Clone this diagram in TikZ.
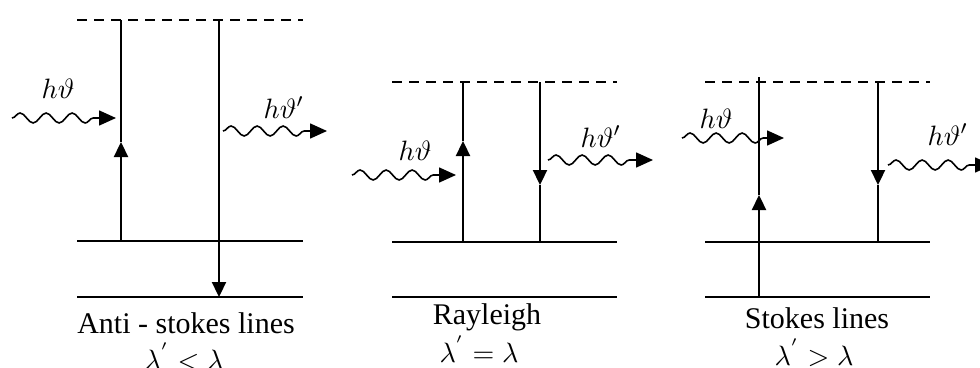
\documentclass[tikz,border=0pt]{standalone}
\usepackage{fontspec}
\setmainfont{Liberation Serif}
\usetikzlibrary{arrows.meta,decorations.pathmorphing}
\tikzset{
  lvl/.style={line width=2.3pt},
  virt/.style={line width=2.2pt, dash pattern=on 10pt off 7pt},
  trans/.style={line width=2.3pt},
  tip/.style={-{Triangle[length=15pt,width=14pt]}},
  photon/.style={line width=1.6pt, -{Triangle[length=17pt,width=15pt]},
    decorate, decoration={snake, segment length=26pt, amplitude=5pt, post length=12pt}},
  lab/.style={font=\fontsize{30}{36}\selectfont, anchor=base, inner sep=0pt},
  mlab/.style={scale=2.8, anchor=base, inner sep=0pt}
}
\begin{document}
\begin{tikzpicture}[x=1pt,y=-1pt]
\useasboundingbox (0,0) rectangle (980,367);
\clip (0,0) rectangle (980,367);
% ---------- Panel 1: Anti-Stokes ----------
\coordinate (p1vl) at (77,20);  \coordinate (p1vr) at (303,20);
\coordinate (p1gl) at (77,241); \coordinate (p1gr) at (303,241);
\coordinate (p1ll) at (77,297); \coordinate (p1lr) at (303,297);
\draw[virt] (p1vl) -- (p1vr);
\draw[lvl] (p1gl) -- (p1gr);
\draw[lvl] (p1ll) -- (p1lr);
\coordinate (p1ub) at (121,241); \coordinate (p1um) at (121,142); \coordinate (p1ut) at (121,20);
\draw[trans,tip] (p1ub) -- (p1um);
\draw[trans] (p1um) -- (p1ut);
\coordinate (p1dt) at (219,20); \coordinate (p1db) at (219,297);
\draw[trans,tip] (p1dt) -- (p1db);
\coordinate (p1wis) at (12,118); \coordinate (p1wie) at (116,118);
\draw[photon] (p1wis) -- (p1wie);
\coordinate (p1wos) at (223,131); \coordinate (p1woe) at (327,131);
\draw[photon] (p1wos) -- (p1woe);
\node[mlab] (p1hin) at (58,98) {$h\vartheta$};
\node[mlab] (p1hout) at (284,118) {$h\vartheta'$};
\node[lab] (p1name) at (186,333) {Anti - stokes lines};
\node[mlab] (p1rel) at (184,369) {$\lambda^{'} < \lambda$};
% ---------- Panel 2: Rayleigh ----------
\coordinate (p2vl) at (392,82);  \coordinate (p2vr) at (617,82);
\coordinate (p2gl) at (392,242); \coordinate (p2gr) at (617,242);
\coordinate (p2ll) at (392,297); \coordinate (p2lr) at (617,297);
\draw[virt] (p2vl) -- (p2vr);
\draw[lvl] (p2gl) -- (p2gr);
\draw[lvl] (p2ll) -- (p2lr);
\coordinate (p2ub) at (463,242); \coordinate (p2um) at (463,141); \coordinate (p2ut) at (463,82);
\draw[trans,tip] (p2ub) -- (p2um);
\draw[trans] (p2um) -- (p2ut);
\coordinate (p2dt) at (540,82); \coordinate (p2dm) at (540,185); \coordinate (p2db) at (540,242);
\draw[trans,tip] (p2dt) -- (p2dm);
\draw[line width=2.8pt] (p2dm) -- (p2db);
\coordinate (p2wis) at (352,175); \coordinate (p2wie) at (456,175);
\draw[photon] (p2wis) -- (p2wie);
\coordinate (p2wos) at (548,160); \coordinate (p2woe) at (653,160);
\draw[photon] (p2wos) -- (p2woe);
\node[mlab] (p2hin) at (415,160) {$h\vartheta$};
\node[mlab] (p2hout) at (601,147) {$h\vartheta'$};
\node[lab] (p2name) at (487,324) {Rayleigh};
\node[mlab] (p2rel) at (479,362) {$\lambda^{'} = \lambda$};
% ---------- Panel 3: Stokes ----------
\coordinate (p3vl) at (705,82);  \coordinate (p3vr) at (930,82);
\coordinate (p3gl) at (705,242); \coordinate (p3gr) at (930,242);
\coordinate (p3ll) at (705,297); \coordinate (p3lr) at (930,297);
\draw[virt] (p3vl) -- (p3vr);
\draw[lvl] (p3gl) -- (p3gr);
\draw[lvl] (p3ll) -- (p3lr);
\coordinate (p3ub) at (759,297); \coordinate (p3um) at (759,195); \coordinate (p3ut) at (759,77);
\draw[trans,tip] (p3ub) -- (p3um);
\draw[trans] (p3um) -- (p3ut);
\coordinate (p3dt) at (878,82); \coordinate (p3dm) at (878,185); \coordinate (p3db) at (878,242);
\draw[trans,tip] (p3dt) -- (p3dm);
\draw[line width=2.8pt] (p3dm) -- (p3db);
\coordinate (p3wis) at (682,138); \coordinate (p3wie) at (784,138);
\draw[photon] (p3wis) -- (p3wie);
\coordinate (p3wos) at (888,165); \coordinate (p3woe) at (992,165);
\draw[photon] (p3wos) -- (p3woe);
\node[mlab] (p3hin) at (716,128) {$h\vartheta$};
\node[mlab] (p3hout) at (948,145) {$h\vartheta'$};
\node[lab] (p3name) at (817,328) {Stokes lines};
\node[mlab] (p3rel) at (814,365) {$\lambda^{'} > \lambda$};
\end{tikzpicture}
\end{document}
